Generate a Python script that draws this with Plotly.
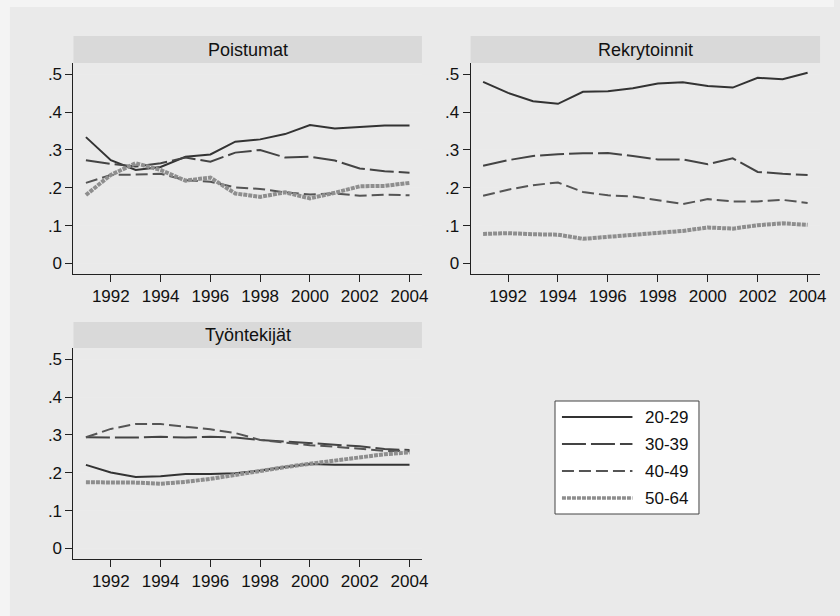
import plotly.graph_objects as go

# Years and age groups
years = list(range(1991, 2005))
groups = ["20-29", "30-39", "40-49", "50-64"]

# Poistumat (exits) by age group
poistumat_2029 = [0.334, 0.273, 0.247, 0.255, 0.282, 0.288, 0.322, 0.328, 0.342, 0.366, 0.357, 0.362, 0.365, 0.365]
poistumat_3039 = [0.273, 0.263, 0.256, 0.265, 0.280, 0.269, 0.293, 0.300, 0.280, 0.282, 0.272, 0.251, 0.244, 0.240]
poistumat_4049 = [0.213, 0.234, 0.235, 0.237, 0.220, 0.216, 0.201, 0.197, 0.188, 0.182, 0.185, 0.179, 0.182, 0.180]
poistumat_5064 = [0.181, 0.234, 0.265, 0.247, 0.219, 0.227, 0.185, 0.176, 0.188, 0.172, 0.187, 0.204, 0.205, 0.213]

# Rekrytoinnit (recruitments) by age group
rekry_2029 = [0.480, 0.451, 0.429, 0.422, 0.454, 0.455, 0.463, 0.476, 0.479, 0.469, 0.465, 0.491, 0.487, 0.504]
rekry_3039 = [0.258, 0.273, 0.284, 0.289, 0.291, 0.292, 0.284, 0.275, 0.275, 0.262, 0.278, 0.242, 0.237, 0.234]
rekry_4049 = [0.179, 0.195, 0.207, 0.214, 0.189, 0.180, 0.177, 0.167, 0.157, 0.170, 0.164, 0.164, 0.168, 0.160]
rekry_5064 = [0.078, 0.080, 0.077, 0.076, 0.065, 0.070, 0.076, 0.080, 0.086, 0.095, 0.092, 0.101, 0.106, 0.102]

# Työntekijät (employees) by age group
tyo_2029 = [0.221, 0.201, 0.189, 0.191, 0.197, 0.197, 0.199, 0.206, 0.215, 0.223, 0.221, 0.221, 0.220, 0.221]
tyo_3039 = [0.294, 0.293, 0.293, 0.295, 0.293, 0.295, 0.293, 0.287, 0.283, 0.279, 0.275, 0.270, 0.263, 0.260]
tyo_4049 = [0.294, 0.316, 0.329, 0.329, 0.322, 0.315, 0.305, 0.287, 0.280, 0.273, 0.269, 0.263, 0.258, 0.257]
tyo_5064 = [0.175, 0.175, 0.174, 0.171, 0.176, 0.184, 0.195, 0.206, 0.215, 0.224, 0.233, 0.242, 0.249, 0.254]

panel_titles = ["Poistumat", "Rekrytoinnit", "Työntekijät"]
panel_series = [
    [poistumat_2029, poistumat_3039, poistumat_4049, poistumat_5064],
    [rekry_2029, rekry_3039, rekry_4049, rekry_5064],
    [tyo_2029, tyo_3039, tyo_4049, tyo_5064],
]

y_tickvals = [0, 0.1, 0.2, 0.3, 0.4, 0.5]
y_ticktext = ["0", ".1", ".2", ".3", ".4", ".5"]
x_tickvals = list(range(1992, 2005, 2))

# Line styles per age group
styles = [
    dict(color="#333333", width=2, dash="solid"),
    dict(color="#444444", width=2, dash="24px,5px"),
    dict(color="#555555", width=2, dash="12px,5px"),
    dict(color="#8e8e8e", width=4, dash="4px,1px"),
]

W, H = 840, 616
FONT = "Liberation Sans, Arial, Helvetica, sans-serif"

def px_x(p):
    return p / W

def px_y(p):
    return 1 - p / H

# Panel geometry (pixels): plot-area left, right, top, bottom; header top
panels = [
    dict(l=74, r=425, t=63, b=274, ht=36),
    dict(l=474, r=826, t=63, b=274, ht=36),
    dict(l=74, r=425, t=348, b=559, ht=322),
]

fig = go.Figure()
shapes = []
annotations = []

# Light outer frame strip, gray canvas
shapes.append(dict(type="rect", xref="paper", yref="paper", x0=0, x1=1, y0=0, y1=1,
                   fillcolor="#f4f4f4", line=dict(width=0), layer="below"))
shapes.append(dict(type="rect", xref="paper", yref="paper", x0=px_x(10), x1=1, y0=0, y1=px_y(7),
                   fillcolor="#eaeaea", line=dict(width=0), layer="below"))

for i, (title, series, g) in enumerate(zip(panel_titles, panel_series, panels)):
    n = "" if i == 0 else str(i + 1)
    xa, ya = "xaxis" + n, "yaxis" + n
    for k, (vals, name) in enumerate(zip(series, groups)):
        fig.add_trace(go.Scatter(
            x=years, y=vals, mode="lines", name=name, showlegend=False,
            line=styles[k], xaxis="x" + n, yaxis="y" + n,
        ))
    axis_common = dict(
        showline=True, linecolor="#222222", linewidth=1, mirror=False,
        ticks="outside", ticklen=7, tickcolor="#222222", tickwidth=1,
        tickfont=dict(family=FONT, size=17, color="#111111"),
        zeroline=False,
    )
    fig.update_layout(**{
        xa: dict(axis_common, domain=[px_x(g["l"]), px_x(g["r"])], range=[1990.5, 2004.5],
                 tickvals=x_tickvals, showgrid=False, anchor="y" + n),
        ya: dict(axis_common, domain=[px_y(g["b"]), px_y(g["t"])], range=[-0.028, 0.53],
                 tickvals=y_tickvals, ticktext=y_ticktext, showgrid=True,
                 gridcolor="#ebebeb", gridwidth=1, anchor="x" + n),
    })
    # Header strip with panel title
    shapes.append(dict(type="rect", xref="paper", yref="paper",
                       x0=px_x(g["l"]), x1=px_x(g["r"]), y0=px_y(g["t"]), y1=px_y(g["ht"]),
                       fillcolor="#d9d9d9", line=dict(width=0), layer="below"))
    annotations.append(dict(text=title, xref="paper", yref="paper",
                            x=px_x((g["l"] + g["r"]) / 2), y=px_y((g["t"] + g["ht"]) / 2),
                            xanchor="center", yanchor="middle", showarrow=False,
                            font=dict(family=FONT, size=18, color="#111111")))

# Legend box
shapes.append(dict(type="rect", xref="paper", yref="paper",
                   x0=px_x(559), x1=px_x(704), y0=px_y(514), y1=px_y(401),
                   fillcolor="white", line=dict(color="#444444", width=1), layer="above"))
legend_rows = [417, 444, 471, 498]
for k, (name, yy) in enumerate(zip(groups, legend_rows)):
    st = styles[k]
    shapes.append(dict(type="line", xref="paper", yref="paper",
                       x0=px_x(566), x1=px_x(637), y0=px_y(yy), y1=px_y(yy),
                       line=dict(color=st["color"], width=st["width"] if k < 3 else 3.5,
                                 dash=st["dash"]), layer="above"))
    annotations.append(dict(text=name, xref="paper", yref="paper",
                            x=px_x(648), y=px_y(yy), xanchor="left", yanchor="middle",
                            showarrow=False, font=dict(family=FONT, size=17, color="#111111")))

fig.update_layout(
    width=W, height=H,
    margin=dict(l=0, r=0, t=0, b=0),
    paper_bgcolor="#eaeaea",
    plot_bgcolor="white",
    showlegend=False,
    shapes=shapes,
    annotations=annotations,
)

fig.write_html("out.html")
